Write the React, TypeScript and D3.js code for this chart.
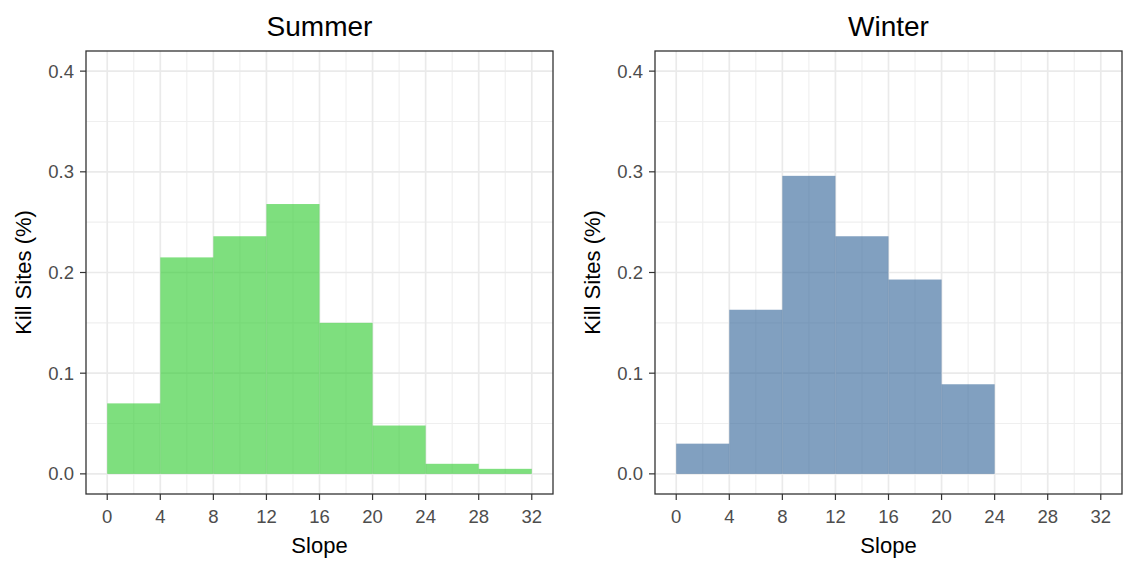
import React from "react";
import * as d3 from "d3";

const binEdges = [0, 4, 8, 12, 16, 20, 24, 28, 32];
const summerValues = [0.07, 0.215, 0.236, 0.268, 0.15, 0.048, 0.01, 0.005];
const winterValues = [0.03, 0.163, 0.296, 0.236, 0.193, 0.089];
const xTicks = [0, 4, 8, 12, 16, 20, 24, 28, 32];
const xMinor = [2, 6, 10, 14, 18, 22, 26, 30];
const yTicks = [0, 0.1, 0.2, 0.3, 0.4];
const yTickLabels = ["0.0", "0.1", "0.2", "0.3", "0.4"];
const yMinor = [0.05, 0.15, 0.25, 0.35];
const panelTitles = ["Summer", "Winter"];
const xTitle = "Slope";
const yTitle = "Kill Sites (%)";

const W = 1126;
const H = 561;
const TOP = 51;
const BOTTOM = 494;
const PW = 467;
const FONT = "Liberation Sans, Arial, sans-serif";

function Panel({ left, title, values, fill }: { left: number; title: string; values: number[]; fill: string }) {
  const x = d3.scaleLinear().domain([-1.6, 33.6]).range([left, left + PW]);
  const y = d3.scaleLinear().domain([-0.02, 0.42]).range([BOTTOM, TOP]);
  const cx = left + PW / 2;
  return (
    <g>
      <rect x={left} y={TOP} width={PW} height={BOTTOM - TOP} fill="#fff" />
      {yMinor.map((v) => (
        <line key={"ym" + v} x1={left} x2={left + PW} y1={y(v)} y2={y(v)} stroke="#EFEFEF" strokeWidth={1.1} />
      ))}
      {xMinor.map((v) => (
        <line key={"xm" + v} x1={x(v)} x2={x(v)} y1={TOP} y2={BOTTOM} stroke="#EFEFEF" strokeWidth={1.1} />
      ))}
      {yTicks.map((v) => (
        <line key={"yM" + v} x1={left} x2={left + PW} y1={y(v)} y2={y(v)} stroke="#EAEAEA" strokeWidth={1.7} />
      ))}
      {xTicks.map((v) => (
        <line key={"xM" + v} x1={x(v)} x2={x(v)} y1={TOP} y2={BOTTOM} stroke="#EAEAEA" strokeWidth={1.7} />
      ))}
      {values.map((v, i) => (
        <rect
          key={"b" + i}
          x={x(binEdges[i])}
          width={x(binEdges[i + 1]) - x(binEdges[i])}
          y={y(v)}
          height={y(0) - y(v)}
          fill={fill}
          fillOpacity={0.62}
        />
      ))}
      <rect x={left} y={TOP} width={PW} height={BOTTOM - TOP} fill="none" stroke="#333333" strokeWidth={1.3} />
      {xTicks.map((v) => (
        <g key={"xt" + v}>
          <line x1={x(v)} x2={x(v)} y1={BOTTOM} y2={BOTTOM + 6} stroke="#333333" strokeWidth={1.2} />
          <text x={x(v)} y={523} textAnchor="middle" fontSize={18.5} fill="#4D4D4D" fontFamily={FONT}>
            {v}
          </text>
        </g>
      ))}
      {yTicks.map((v, i) => (
        <g key={"yt" + v}>
          <line x1={left - 6} x2={left} y1={y(v)} y2={y(v)} stroke="#333333" strokeWidth={1.2} />
          <text x={left - 12} y={y(v) + 6.6} textAnchor="end" fontSize={18.5} fill="#4D4D4D" fontFamily={FONT}>
            {yTickLabels[i]}
          </text>
        </g>
      ))}
      <text x={cx} y={36} textAnchor="middle" fontSize={28} fill="#000" fontFamily={FONT}>
        {title}
      </text>
      <text x={cx} y={553} textAnchor="middle" fontSize={22} fill="#000" fontFamily={FONT}>
        {xTitle}
      </text>
      <text
        transform={`translate(${left - 55},${(TOP + BOTTOM) / 2}) rotate(-90)`}
        textAnchor="middle"
        fontSize={22}
        fill="#000"
        fontFamily={FONT}
      >
        {yTitle}
      </text>
    </g>
  );
}

export default function App() {
  return (
    <svg
      width={W}
      height={H}
      viewBox={`0 0 ${W} ${H}`}
      style={{ position: "absolute", left: 0, top: 0, background: "#fff" }}
    >
      <rect width={W} height={H} fill="#fff" />
      <Panel left={86} title={panelTitles[0]} values={summerValues} fill="#2ECC2E" />
      <Panel left={655} title={panelTitles[1]} values={winterValues} fill="#336699" />
    </svg>
  );
}
